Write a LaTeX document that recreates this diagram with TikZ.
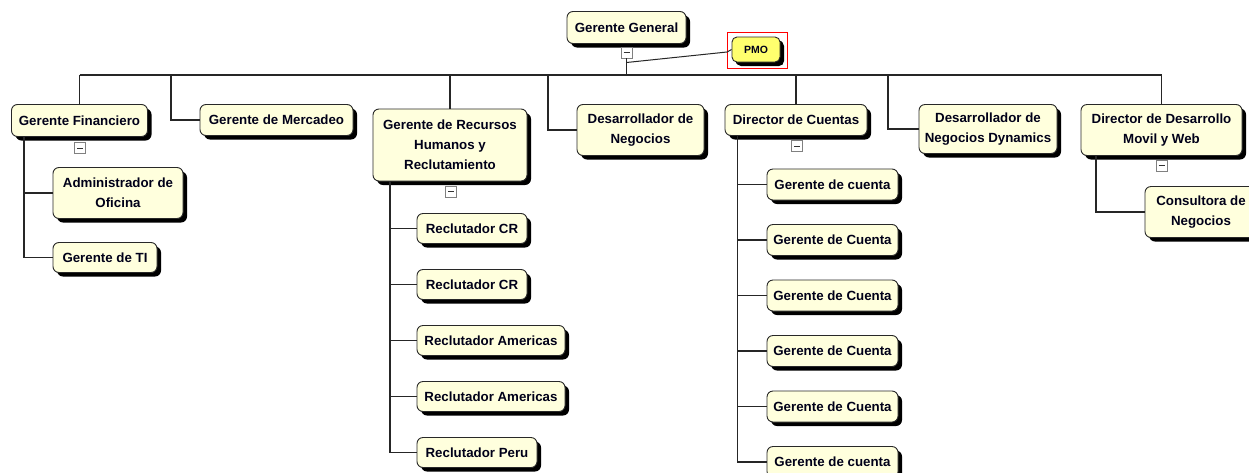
\documentclass[tikz,border=0pt]{standalone}
\usepackage{fontspec}
\setmainfont{Liberation Sans}
\usetikzlibrary{shadows}
\definecolor{cream}{RGB}{255,255,221}
\definecolor{pmoyellow}{RGB}{255,255,110}
\definecolor{frame}{RGB}{40,40,40}
\tikzset{
  card/.style={draw=frame, line width=0.9pt, fill=cream, rounded corners=6pt,
    inner sep=0pt, align=center, text=black!90!blue,
    font=\bfseries\fontsize{13.3}{20}\selectfont,
    drop shadow={shadow xshift=4pt, shadow yshift=-4pt, fill=black, opacity=1}},
  sz/.style 2 args={minimum width=#1pt, minimum height=#2pt},
  conn/.style={draw=black!85, line width=1.2pt},
  toggle/.style={draw=gray, fill=white, minimum size=11pt, inner sep=0pt,
    line width=0.8pt,
    path picture={\draw[black!80, line width=1pt]
      ([xshift=-3pt]path picture bounding box.center) --
      ([xshift=3pt]path picture bounding box.center);}},
}
\begin{document}
\begin{tikzpicture}[x=1pt, y=-1pt]
\clip (0,0) rectangle (1249,472);
\fill[white] (0,0) rectangle (1249,472);

% top of the chart
\node[card, sz={119}{32}] (gg) at (626.5,27.5) {Gerente General};
\node[toggle] (ggT) at (626.5,52.5) {};
\node[card, sz={48}{25}, fill=pmoyellow, rounded corners=5pt,
  font=\bfseries\fontsize{10.5}{12}\selectfont,
  drop shadow={shadow xshift=3pt, shadow yshift=-3pt, fill=black, opacity=1}] (pmo) at (756,49.5) {PMO};
\node[draw=red, line width=1pt, minimum width=60pt, minimum height=36pt, inner sep=0pt] (pmoSel) at (757,50) {};

% second level
\node[card, sz={136}{32}] (fin) at (79.5,120.5) {Gerente Financiero};
\node[toggle] (finT) at (80,148) {};
\node[card, sz={130}{51}] (adm) at (118,193) {Administrador de\\Oficina};
\node[card, sz={104}{30}] (ti) at (105,257.5) {Gerente de TI};

\node[card, sz={153}{31}] (mer) at (276.5,120) {Gerente de Mercadeo};

\node[card, sz={154}{72}] (rh) at (450,145) {Gerente de Recursos\\Humanos y\\Reclutamiento};
\node[toggle] (rhT) at (451,191.5) {};
\node[card, sz={110}{30}] (r1) at (472,228.5) {Reclutador CR};
\node[card, sz={110}{30}] (r2) at (472,284.5) {Reclutador CR};
\node[card, sz={148}{30}] (r3) at (491,340.5) {Reclutador Americas};
\node[card, sz={148}{30}] (r4) at (491,396.5) {Reclutador Americas};
\node[card, sz={120}{30}] (r5) at (477,452.5) {Reclutador Peru};

\node[card, sz={127}{51}] (dn) at (640.5,130) {Desarrollador de\\Negocios};

\node[card, sz={142}{31}] (dc) at (796,120) {Director de Cuentas};
\node[toggle] (dcT) at (797,146) {};
\node[card, sz={131}{31}] (a1) at (832.5,184.5) {Gerente de cuenta};
\node[card, sz={131}{31}] (a2) at (832.5,240) {Gerente de Cuenta};
\node[card, sz={131}{31}] (a3) at (832.5,295.5) {Gerente de Cuenta};
\node[card, sz={131}{31}] (a4) at (832.5,351) {Gerente de Cuenta};
\node[card, sz={131}{31}] (a5) at (832.5,406.5) {Gerente de Cuenta};
\node[card, sz={131}{31}] (a6) at (832.5,462) {Gerente de cuenta};

\node[card, sz={138}{49}] (dnd) at (988,129) {Desarrollador de\\Negocios Dynamics};

\node[card, sz={161}{51}] (dmw) at (1161.5,130) {Director de Desarrollo\\Movil y Web};
\node[toggle] (dmwT) at (1161.5,165.5) {};
\node[card, sz={112}{51}] (cn) at (1201,212) {Consultora de\\Negocios};

% bus and taps
\coordinate (busY) at (0,75);
\coordinate (ggJ) at (626.5,62.5);
\coordinate (pmoKnee) at (727,52);
\coordinate (merTap) at (171,75);
\coordinate (dnTap) at (548,75);
\coordinate (dndTap) at (888,75);
\coordinate (finR) at (24,0);
\coordinate (rhR) at (390,0);
\coordinate (dcR) at (737.5,0);
\coordinate (dmwR) at (1096,0);

\draw[conn] (fin.north |- busY) -- (dmw.north |- busY);
\draw[conn] (ggT.south) -- (ggT.south |- busY);
\draw[conn, line width=1pt] (ggJ) -- (pmoKnee) -- (pmo.west);
\draw[conn] (fin.north) -- (fin.north |- busY);
\draw[conn] (rh.north) -- (rh.north |- busY);
\draw[conn] (dc.north) -- (dc.north |- busY);
\draw[conn] (dmw.north) -- (dmw.north |- busY);
\draw[conn] (merTap) |- (mer.west);
\draw[conn] (dnTap) |- (dn.west);
\draw[conn] (dndTap) |- (dnd.west);

% branches below the managers
\draw[conn] (fin.south -| finR) |- (ti.west);
\draw[conn] (finR |- adm.west) -- (adm.west);

\draw[conn] (rh.south -| rhR) |- (r5.west);
\foreach \n in {r1,r2,r3,r4} \draw[conn] (rhR |- \n.west) -- (\n.west);

\draw[conn] (dc.south -| dcR) |- (a6.west);
\foreach \n in {a1,a2,a3,a4,a5} \draw[conn] (dcR |- \n.west) -- (\n.west);

\draw[conn] (dmw.south -| dmwR) |- (cn.west);
\end{tikzpicture}
\end{document}
